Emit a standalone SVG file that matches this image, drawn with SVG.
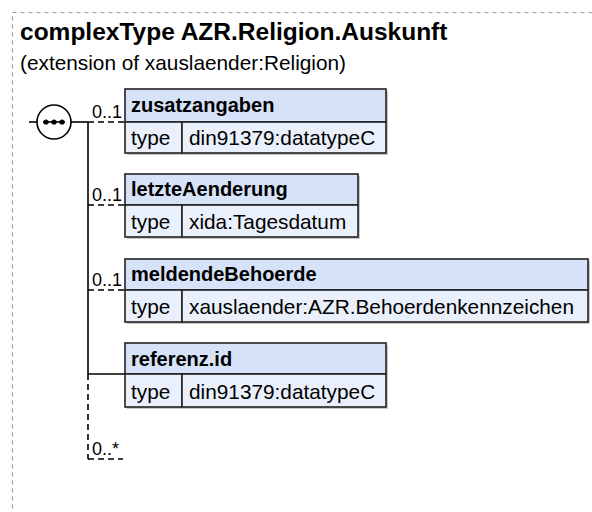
<svg xmlns="http://www.w3.org/2000/svg" width="592" height="512" viewBox="0 0 592 512">
<style>
text{font-family:"Liberation Sans",Arial,sans-serif;fill:#000}
.title{font-size:24.5px;font-weight:bold}
.sub{font-size:20.8px}
.nm{font-size:20px;font-weight:bold}
.tx{font-size:20.8px}
.card{font-size:18px}
.hdr{fill:#d6e2f7;stroke:#222;stroke-width:1.6}
.row{fill:#eaf0fb;stroke:#222;stroke-width:1.6}
.shadow{fill:#c8c8c8}
.ln{stroke:#000;stroke-width:1.6;fill:none}
.dash{stroke:#000;stroke-width:1.6;fill:none;stroke-dasharray:6,4}
</style>
<rect x="12.5" y="12.5" width="800" height="800" fill="none" stroke="#999" stroke-width="1.2" stroke-dasharray="4,4"/>
<text class="title" x="20" y="40">complexType AZR.Religion.Auskunft</text>
<text class="sub" x="20" y="70">(extension of xauslaender:Religion)</text>
<g id="sequence">
<line class="ln" x1="29" y1="122" x2="37" y2="122"/>
<circle cx="54" cy="122" r="17" fill="#fff" stroke="#000" stroke-width="1.6"/>
<line class="ln" x1="43" y1="122" x2="65" y2="122"/>
<circle cx="46" cy="122" r="2.6"/>
<circle cx="54" cy="122" r="2.6"/>
<circle cx="62" cy="122" r="2.6"/>
</g>
<g id="connectors">
<line class="ln" x1="71" y1="122" x2="88" y2="122"/>
<line class="ln" x1="88" y1="122" x2="88" y2="374"/>
<line class="dash" x1="88" y1="374" x2="88" y2="459"/>
<line class="dash" x1="88" y1="459" x2="123" y2="459"/>
<line class="dash" x1="88" y1="122" x2="125" y2="122"/>
<line class="dash" x1="88" y1="205" x2="125" y2="205"/>
<line class="dash" x1="88" y1="290" x2="125" y2="290"/>
<line class="ln" x1="88" y1="374" x2="125" y2="374"/>
<text class="card" x="92" y="118">0..1</text>
<text class="card" x="92" y="201">0..1</text>
<text class="card" x="92" y="286">0..1</text>
<text class="card" x="92" y="455">0..*</text>
</g>
<g id="zusatzangaben">
<rect class="shadow" x="127" y="91" width="261" height="64"/>
<rect class="hdr" x="125" y="89" width="261" height="33"/>
<rect class="row" x="125" y="122" width="57" height="31"/>
<rect class="row" x="182" y="122" width="204" height="31"/>
<text class="nm" x="131" y="112">zusatzangaben</text>
<text class="tx" x="131" y="145">type</text>
<text class="tx" x="189" y="145">din91379:datatypeC</text>
</g>
<g id="letzteAenderung">
<rect class="shadow" x="127" y="176" width="233" height="63"/>
<rect class="hdr" x="125" y="174" width="233" height="31"/>
<rect class="row" x="125" y="205" width="57" height="32"/>
<rect class="row" x="182" y="205" width="176" height="32"/>
<text class="nm" x="131" y="196">letzteAenderung</text>
<text class="tx" x="131" y="229">type</text>
<text class="tx" x="189" y="229">xida:Tagesdatum</text>
</g>
<g id="meldendeBehoerde">
<rect class="shadow" x="127" y="261" width="463" height="63"/>
<rect class="hdr" x="125" y="259" width="463" height="31"/>
<rect class="row" x="125" y="290" width="57" height="32"/>
<rect class="row" x="182" y="290" width="406" height="32"/>
<text class="nm" x="131" y="281">meldendeBehoerde</text>
<text class="tx" x="131" y="314">type</text>
<text class="tx" x="189" y="314">xauslaender:AZR.Behoerdenkennzeichen</text>
</g>
<g id="referenz.id">
<rect class="shadow" x="127" y="345" width="261" height="64"/>
<rect class="hdr" x="125" y="343" width="261" height="31"/>
<rect class="row" x="125" y="374" width="57" height="33"/>
<rect class="row" x="182" y="374" width="204" height="33"/>
<text class="nm" x="131" y="366">referenz.id</text>
<text class="tx" x="131" y="399">type</text>
<text class="tx" x="189" y="399">din91379:datatypeC</text>
</g>
</svg>
